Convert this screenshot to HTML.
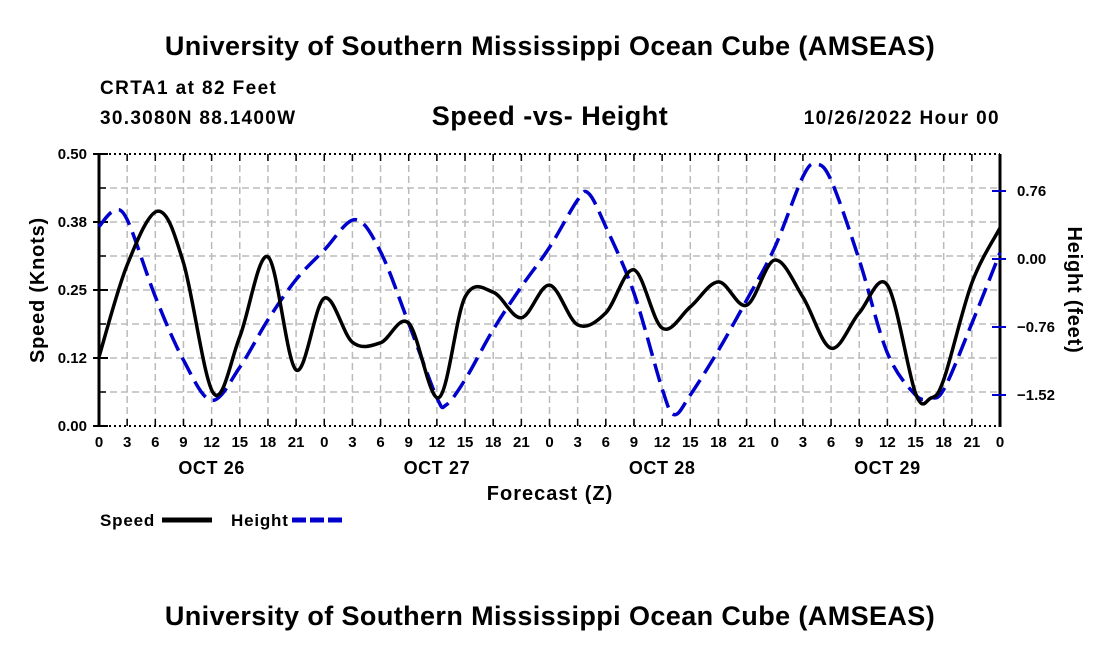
<!DOCTYPE html>
<html><head><meta charset="utf-8"><style>
body{margin:0;background:#fff;}
svg text{font-family:"Liberation Sans",sans-serif;font-weight:bold;fill:#000;}
</style></head><body>
<svg width="1100" height="650" viewBox="0 0 1100 650">
<text x="550" y="55" text-anchor="middle" font-size="27" letter-spacing="0.4">University of Southern Mississippi Ocean Cube (AMSEAS)</text>
<text x="100" y="94" font-size="19" letter-spacing="1.4">CRTA1 at 82 Feet</text>
<text x="100" y="124" font-size="19" letter-spacing="1.3">30.3080N  88.1400W</text>
<text x="550" y="125" text-anchor="middle" font-size="27" letter-spacing="0.5">Speed -vs- Height</text>
<text x="1000" y="124" text-anchor="end" font-size="19" letter-spacing="1.4">10/26/2022 Hour 00</text>
<g id="grid"></g>
<g id="axes"></g>
<g id="series"></g>
<text transform="translate(44,290) rotate(-90)" text-anchor="middle" font-size="20" letter-spacing="0.8">Speed (Knots)</text>
<text transform="translate(1068,290) rotate(90)" text-anchor="middle" font-size="20" letter-spacing="0.8">Height (feet)</text>
<text x="550" y="500" text-anchor="middle" font-size="20" letter-spacing="1">Forecast (Z)</text>
<g>
<text x="100" y="526" font-size="17" letter-spacing="0.8">Speed</text>
<line x1="162" y1="520" x2="212" y2="520" stroke="#000" stroke-width="5"/>
<text x="231" y="526" font-size="17" letter-spacing="0.8">Height</text>
<line x1="292" y1="520" x2="342" y2="520" stroke="#0000cc" stroke-width="5" stroke-dasharray="14,4"/>
</g>
<text x="550" y="625" text-anchor="middle" font-size="27" letter-spacing="0.4">University of Southern Mississippi Ocean Cube (AMSEAS)</text>
</svg>
<script>
const speedHours=[0,3,6.3,9,12.2,15,18,21,24,27,30,33,36.2,39,42,45,48,51,54,57,60,63,66,69,72,75,78,81,84,87,88.6,90,93,96];
const speed=[0.127,0.296,0.395,0.30,0.06,0.164,0.311,0.103,0.235,0.154,0.153,0.189,0.052,0.237,0.246,0.199,0.259,0.186,0.208,0.287,0.18,0.219,0.265,0.222,0.305,0.237,0.143,0.208,0.259,0.06,0.051,0.085,0.263,0.364];
const heightHours=[0,1.5,3,6,9,12,15,18,21,24,27.3,30,33,36,37,39,42,45,48,51,52.2,54,57,60,61.3,63,66,69,72,75,76.4,78,81,84,87,88.5,90,93,96];
const height=[0.36,0.53,0.44,-0.42,-1.13,-1.58,-1.21,-0.68,-0.23,0.10,0.44,0.08,-0.72,-1.55,-1.63,-1.35,-0.79,-0.31,0.13,0.66,0.73,0.36,-0.38,-1.45,-1.74,-1.52,-1.02,-0.46,0.13,0.92,1.06,0.88,-0.01,-1.05,-1.52,-1.55,-1.46,-0.72,0.07];
const xTickHours=[0,3,6,9,12,15,18,21,24,27,30,33,36,39,42,45,48,51,54,57,60,63,66,69,72,75,78,81,84,87,90,93,96];
const xTickLabels=["0","3","6","9","12","15","18","21","0","3","6","9","12","15","18","21","0","3","6","9","12","15","18","21","0","3","6","9","12","15","18","21","0"];
const dayLabels=["OCT 26","OCT 27","OCT 28","OCT 29"];
const speedTicks=[0,0.125,0.25,0.375,0.5];
const speedTickLabels=["0.00","0.12","0.25","0.38","0.50"];
const heightTicks=[0.76,0,-0.76,-1.52];
const heightTickLabels=["0.76","0.00","\u22120.76","\u22121.52"];

const L=99,R=1000,T=154,B=426;
const x=h=>L+(h-0)/96*(R-L);
const yS=v=>B-(v/0.5)*(B-T);
const yH=v=>259-v*68/0.76;
const NS="http://www.w3.org/2000/svg";
function mk(tag,attrs,parent){const e=document.createElementNS(NS,tag);for(const k in attrs)e.setAttribute(k,attrs[k]);parent.appendChild(e);return e;}
const grid=document.getElementById('grid'),axes=document.getElementById('axes'),series=document.getElementById('series');

for(let i=1;i<8;i++){const v=i*0.0625;
 const g=mk('line',{x1:L,x2:R,y1:yS(v),y2:yS(v),stroke:'#bbb','stroke-width':1.5,'stroke-dasharray':'7,4'},grid);
 
 
 const t=mk('line',{x1:L,x2:L+7,y1:yS(v),y2:yS(v),stroke:'#000','stroke-width':1.5},axes);
 
 
}
xTickHours.forEach((h,i)=>{
 if(i>0&&i<xTickHours.length-1){const g=mk('line',{x1:x(h),x2:x(h),y1:T,y2:B,stroke:'#bbb','stroke-width':1.5,'stroke-dasharray':'7,4'},grid);
 
 }
 const t1=mk('line',{x1:x(h),x2:x(h),y1:B,y2:B-7,stroke:'#000','stroke-width':1.5},axes);
 
 
 const t2=mk('line',{x1:x(h),x2:x(h),y1:T,y2:T+7,stroke:'#000','stroke-width':1.5},axes);
 
 
 const tx=mk('text',{x:x(h),y:447,'text-anchor':'middle','font-size':15},axes);
 tx.textContent=xTickLabels[i];
 
 
});
dayLabels.forEach((d,i)=>{const t=mk('text',{x:x(12+24*i),y:474,'text-anchor':'middle','font-size':18,'letter-spacing':0.6},axes);
 t.textContent=d;
 
 });
const tb=mk('line',{x1:L,x2:R,y1:T,y2:T,stroke:'#000','stroke-width':2,'stroke-dasharray':'2,3'},axes);


const bb=mk('line',{x1:L,x2:R,y1:B,y2:B,stroke:'#000','stroke-width':2,'stroke-dasharray':'2,3'},axes);


const la=mk('line',{x1:L,x2:L,y1:T,y2:B+1,stroke:'#000','stroke-width':3},axes);


const ra=mk('line',{x1:R,x2:R,y1:T,y2:B+1,stroke:'#000','stroke-width':3},axes);


speedTicks.forEach((v,i)=>{
 const t=mk('line',{x1:L-6,x2:L+9,y1:yS(v),y2:yS(v),stroke:'#000','stroke-width':2},axes);
 
 
 const tx=mk('text',{x:L-12,y:yS(v)+5,'text-anchor':'end','font-size':15},axes);
 tx.textContent=speedTickLabels[i];
 
 
});
heightTicks.forEach((v,i)=>{
 const t=mk('line',{x1:R-8,x2:R+6,y1:yH(v),y2:yH(v),stroke:'#0000cc','stroke-width':2},axes);
 
 
 const tx=mk('text',{x:1017,y:yH(v)+5,'font-size':15},axes);
 tx.textContent=heightTickLabels[i];
 
 
});
function smooth(pts){let d=`M${pts[0][0]},${pts[0][1]}`;
 for(let i=0;i<pts.length-1;i++){const p0=pts[Math.max(0,i-1)],p1=pts[i],p2=pts[i+1],p3=pts[Math.min(pts.length-1,i+2)];
  const c1=[p1[0]+(p2[0]-p0[0])/6,p1[1]+(p2[1]-p0[1])/6],c2=[p2[0]-(p3[0]-p1[0])/6,p2[1]-(p3[1]-p1[1])/6];
  d+=` C${c1[0]},${c1[1]} ${c2[0]},${c2[1]} ${p2[0]},${p2[1]}`;}
 return d;}
const hp=mk('path',{d:smooth(heightHours.map((h,i)=>[x(h),yH(height[i])])),fill:'none',stroke:'#0000cc','stroke-width':3.5,'stroke-dasharray':'19,8'},series);


const sp=mk('path',{d:smooth(speedHours.map((h,i)=>[x(h),yS(speed[i])])),fill:'none',stroke:'#000','stroke-width':3.5},series);


</script>
</body></html>
